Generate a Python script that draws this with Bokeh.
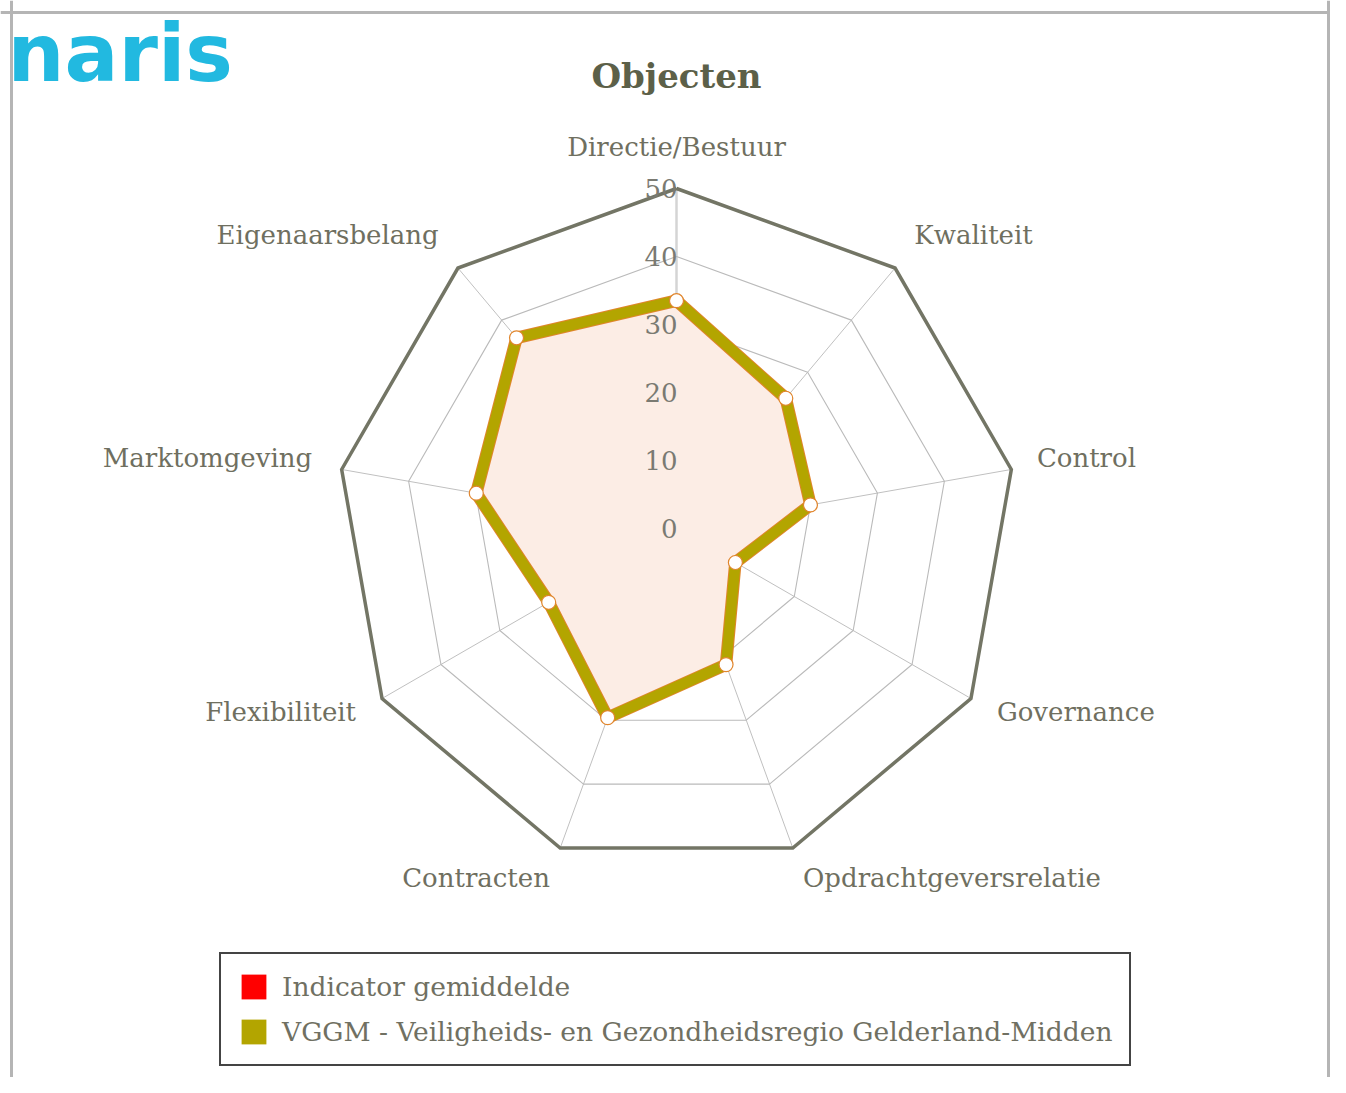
import numpy as np
from bokeh.plotting import figure
from bokeh.models import Range1d, Span, Label, Legend, LegendItem, ColumnDataSource
from bokeh.core.properties import value
from bokeh.embed import file_html
from bokeh.resources import INLINE

# ---------------- data ----------------
categories = ["Directie/Bestuur", "Kwaliteit", "Control", "Governance",
              "Opdrachtgeversrelatie", "Contracten", "Flexibiliteit",
              "Marktomgeving", "Eigenaarsbelang"]
vggm_values = [33.5, 25.0, 20.0, 10.0, 21.3, 29.6, 21.7, 29.9, 36.6]
indicator_values = [np.nan]  # series present in legend only (not visible in chart)
tick_values = [0, 10, 20, 30, 40, 50]
tick_labels = ["0", "10", "20", "30", "40", "50"]
series_names = ["Indicator gemiddelde",
                "VGGM - Veiligheids- en Gezondheidsregio Gelderland-Midden"]
title_text = "Objecten"
logo_text = "naris"

# ---------------- layout ----------------
W, H = 1330, 1077
CX, CY = 676, 528        # centre of radar in canvas px
S = 6.8                  # px per value unit
RMAX = 50

def dx(px):
    return (px - CX) / S

def dy(py):
    return (CY - py) / S

p = figure(width=W, height=H,
           x_range=Range1d(dx(0), dx(W)), y_range=Range1d(dy(H), dy(0)),
           output_backend="svg", toolbar_location=None, min_border=0,
           x_axis_type=None, y_axis_type=None)
p.grid.visible = False
p.outline_line_color = None
p.background_fill_color = "white"

n = len(categories)
theta = np.array([2 * np.pi * i / n for i in range(n)])
sx, cy_ = np.sin(theta), np.cos(theta)

# page frame border
for sp in [Span(location=dx(11), dimension="height"),
           Span(location=dx(1328), dimension="height"),
           Span(location=dy(12), dimension="width")]:
    sp.line_color = "#b5b5b5"
    sp.line_width = 3
    p.add_layout(sp)

# spokes
p.segment(x0=np.zeros(n), y0=np.zeros(n), x1=RMAX * sx, y1=RMAX * cy_,
          line_color="#c0c0c0", line_width=1)
p.segment(x0=[0], y0=[0], x1=[0], y1=[RMAX], line_color="#d4d4d4", line_width=2.5)

# inner rings
ring_xs, ring_ys = [], []
for v in tick_values[1:-1]:
    ring_xs.append(list(v * sx) + [v * sx[0]])
    ring_ys.append(list(v * cy_) + [v * cy_[0]])
p.multi_line(ring_xs, ring_ys, line_color="#bababa", line_width=1.1)

# outer ring
p.line(list(RMAX * sx) + [RMAX * sx[0]], list(RMAX * cy_) + [RMAX * cy_[0]],
       line_color="#737565", line_width=3.5, line_join="miter")

# series
vals = np.array(vggm_values)
px_ = vals * sx
py_ = vals * cy_
p.patch(list(px_), list(py_), fill_color="#fcede5", fill_alpha=1.0, line_color=None)
p.line(list(px_) + [px_[0]], list(py_) + [py_[0]], line_color="#e0852c",
       line_width=12.5, line_join="round")
p.line(list(px_) + [px_[0]], list(py_) + [py_[0]], line_color="#b3a500",
       line_width=10.5, line_join="round")
p.scatter(px_, py_, size=14, marker="circle", fill_color="white",
          line_color="#e0852c", line_width=1.2)

# tick labels
p.text(x=[0] * len(tick_values), y=tick_values, text=tick_labels,
       text_font=value("DejaVu Serif"), text_font_size="26px",
       text_color="#7a7a72", text_align="right", text_baseline="middle",
       x_offset=1)

# category labels
LR = 370 / S
aligns = []
for s in sx:
    if s > 0.1:
        aligns.append("left")
    elif s < -0.1:
        aligns.append("right")
    else:
        aligns.append("center")
yoffs = list(-5 - 7 * cy_)
xoffs = [-4 if abs(c) < 0.3 and s > 0 else 0 for s, c in zip(sx, cy_)]
src = ColumnDataSource(dict(x=LR * sx, y=LR * cy_, t=categories, a=aligns,
                            yo=yoffs, xo=xoffs))
p.text(x="x", y="y", text="t", source=src, text_align="a", y_offset="yo",
       x_offset="xo", text_baseline="middle", text_font=value("DejaVu Serif"),
       text_font_size="26px", text_color="#6f6f60")

# title
p.add_layout(Label(x=0, y=dy(75), text=title_text, text_align="center",
                   text_baseline="middle", text_font="DejaVu Serif",
                   text_font_style="bold", text_font_size="34px",
                   text_color="#5c6048"))

# logo
p.add_layout(Label(x=dx(7), y=dy(53), text=logo_text, text_align="left",
                   text_baseline="alphabetic", text_font="DejaVu Sans",
                   text_font_style="bold", text_font_size="80px",
                   text_color="#22b9e0"))

# legend
r_ind = p.quad(left=indicator_values, right=indicator_values,
               top=indicator_values, bottom=indicator_values,
               fill_color="#ff0000", line_color=None)
r_vg = p.quad(left=indicator_values, right=indicator_values,
              top=indicator_values, bottom=indicator_values,
              fill_color="#b3a500", line_color=None)
legend = Legend(items=[LegendItem(label=series_names[0], renderers=[r_ind]),
                       LegendItem(label=series_names[1], renderers=[r_vg])],
                location=(219, 1077 - 1066), orientation="vertical",
                glyph_width=31, glyph_height=31, label_standoff=13,
                padding=17, spacing=14, margin=0,
                label_text_font="DejaVu Serif", label_text_font_size="26.5px",
                label_text_color="#707062",
                border_line_color="#444444", border_line_width=2,
                border_line_alpha=1.0,
                background_fill_color="white", background_fill_alpha=1.0)
p.add_layout(legend)

open("out.html", "w").write(file_html(p, INLINE))
